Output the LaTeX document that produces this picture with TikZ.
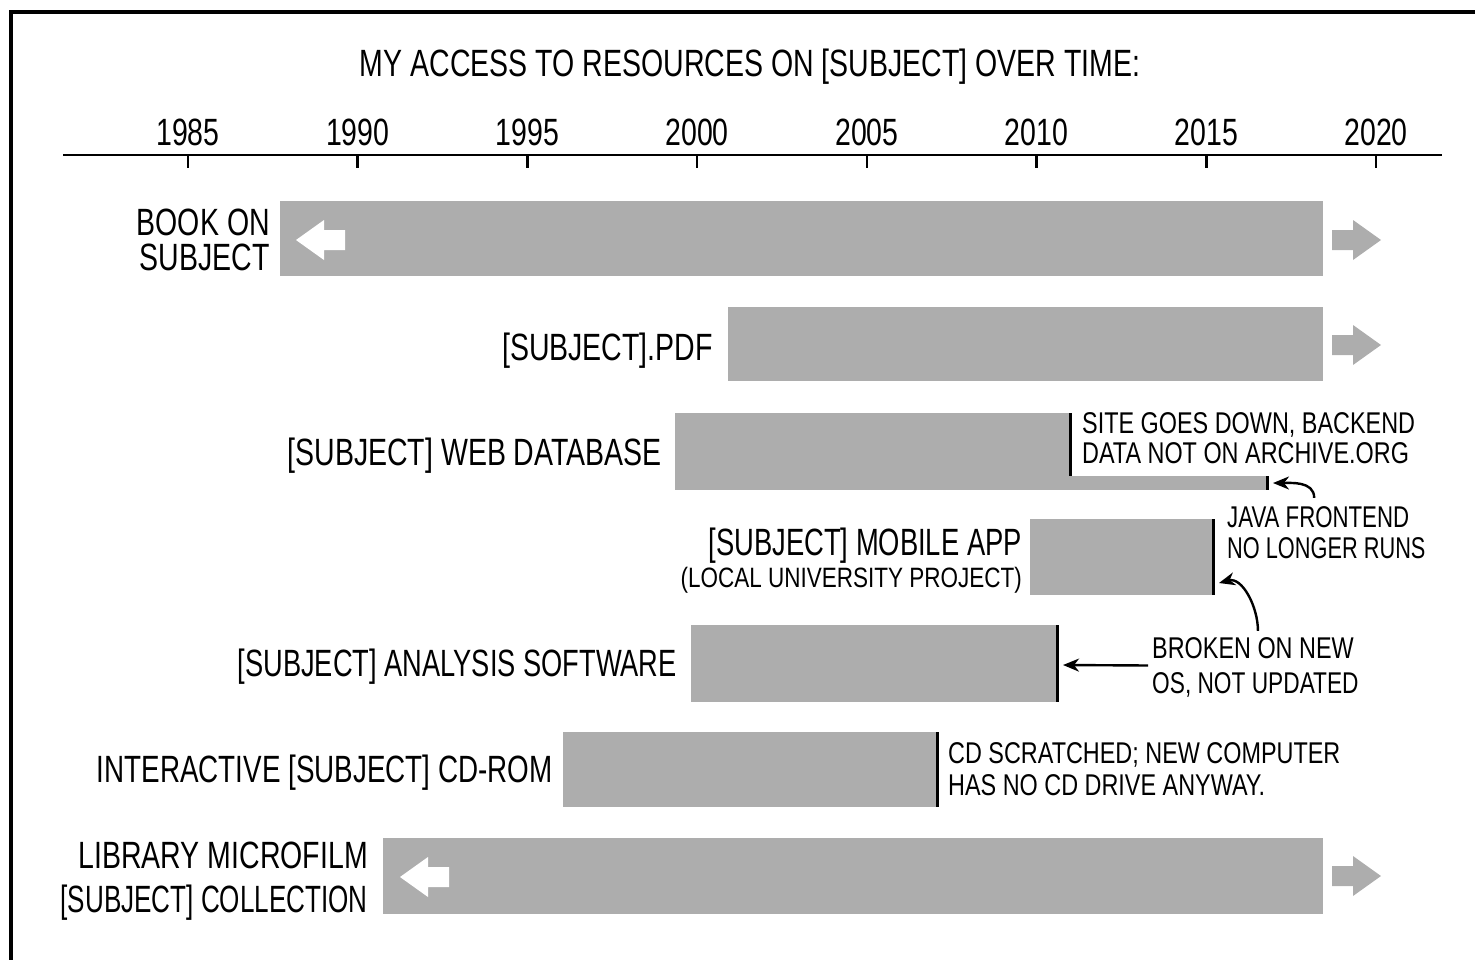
\documentclass[tikz,border=0pt]{standalone}
\usepackage{fontspec}
\usetikzlibrary{arrows.meta}
\newfontfamily\xkfont[FakeStretch=0.75]{Liberation Sans}
\newfontfamily\xkafont[FakeStretch=0.78]{Liberation Sans}
\definecolor{bargray}{HTML}{ADADAD}
\begin{document}
\begin{tikzpicture}[x=1pt,y=-1pt,
  gbar/.style={fill=bargray, draw=none, inner sep=0pt, outer sep=0pt, anchor=north west},
  lbl/.style={inner sep=0pt, anchor=base east, font=\xkfont\fontsize{38}{40}\selectfont},
  annot/.style={inner sep=0pt, anchor=base west, font=\xkafont\fontsize{30}{32}\selectfont},
  yearlbl/.style={inner sep=0pt, anchor=base, font=\xkfont\fontsize{38}{40}\selectfont},
  endline/.style={line width=3pt, black},
  annarrow/.style={line width=2.4pt, -{Stealth[length=16pt,width=13pt,inset=5pt]}},
  rarrow/.pic={\fill[bargray] (0,-10) -- (21,-10) -- (21,-20) -- (49,0) -- (21,20) -- (21,10) -- (0,10) -- cycle;},
  larrow/.pic={\fill[white] (0,0) -- (28,-20) -- (28,-10) -- (49,-10) -- (49,10) -- (28,10) -- (28,20) -- cycle;}
]
\useasboundingbox (0,0) rectangle (1475,959);
% frame
\draw[line width=3.5pt] (1480,12) -- (11,12) -- (11,965);
% title
\node[inner sep=0pt, anchor=base, font=\xkfont\fontsize{38}{40}\selectfont] (title) at (750,76) {MY ACCESS TO RESOURCES ON [SUBJECT] OVER TIME:};
% axis
\draw[line width=2.5pt] (63,155) -- (1442,155);
\foreach \yr/\xx in {1985/188,1990/357.7,1995/527.4,2000/697.1,2005/866.9,2010/1036.6,2015/1206.3,2020/1376}{
  \draw[line width=2.5pt] (\xx,155) -- (\xx,168);
  \node[yearlbl] (y\yr) at (\xx,145) {\yr};
}
% bars
\node[gbar, minimum width=1043pt, minimum height=75pt] (bar1) at (280,201) {};
\node[gbar, minimum width=595pt, minimum height=74pt] (bar2) at (728,307) {};
\node[gbar, minimum width=395pt, minimum height=77pt] (bar3) at (675,413) {};
\node[gbar, minimum width=197pt, minimum height=14pt] (bar3s) at (1070,476) {};
\node[gbar, minimum width=183pt, minimum height=76pt] (bar4) at (1030,519) {};
\node[gbar, minimum width=366pt, minimum height=77pt] (bar5) at (691,625) {};
\node[gbar, minimum width=374pt, minimum height=75pt] (bar6) at (563,732) {};
\node[gbar, minimum width=940pt, minimum height=76pt] (bar7) at (383,838) {};
% end lines
\draw[endline] (bar3.north east) -- (bar3s.north west);
\draw[endline] (bar3s.north east) -- (bar3s.south east);
\draw[endline] (bar4.north east) -- (bar4.south east);
\draw[endline] (bar5.north east) -- (bar5.south east);
\draw[endline] (bar6.north east) -- (bar6.south east);
% continuation arrows
\pic at (1332,240) {rarrow};
\pic at (1332,345) {rarrow};
\pic at (1332,876) {rarrow};
\pic at (296,240) {larrow};
\pic at (400,877) {larrow};
% labels
\node[lbl] (l1a) at (270,235) {BOOK ON};
\node[lbl] (l1b) at (270,270) {SUBJECT};
\node[lbl] (l2) at (713,360) {[SUBJECT].PDF};
\node[lbl] (l3) at (662,465) {[SUBJECT] WEB DATABASE};
\node[lbl] (l4a) at (1022,555) {\scalebox{0.96}[1]{[SUBJECT] MOBILE APP}};
\node[lbl, font=\xkafont\fontsize{28}{30}\selectfont] (l4b) at (1022,587) {\scalebox{1.03}[1]{(LOCAL UNIVERSITY PROJECT)}};
\node[lbl] (l5) at (677,676) {\scalebox{0.956}[1]{[SUBJECT] ANALYSIS SOFTWARE}};
\node[lbl] (l6) at (553,782) {\scalebox{0.976}[1]{INTERACTIVE [SUBJECT] CD-ROM}};
\node[lbl] (l7a) at (368,868) {LIBRARY MICROFILM};
\node[lbl] (l7b) at (368,912) {\scalebox{0.915}[1]{[SUBJECT] COLLECTION}};
% annotations
\node[annot] (a3a) at (1082,433) {SITE GOES DOWN, BACKEND};
\node[annot] (a3b) at (1082,463) {DATA NOT ON ARCHIVE.ORG};
\node[annot] (a4a) at (1227,527) {\scalebox{0.95}[1]{JAVA FRONTEND}};
\node[annot] (a4b) at (1227,558) {\scalebox{0.93}[1]{NO LONGER RUNS}};
\node[annot] (a5a) at (1152,658) {BROKEN ON NEW};
\node[annot] (a5b) at (1152,693) {\scalebox{0.97}[1]{OS, NOT UPDATED}};
\node[annot] (a6a) at (948,763) {CD SCRATCHED; NEW COMPUTER};
\node[annot] (a6b) at (948,795) {HAS NO CD DRIVE ANYWAY.};
% annotation arrows
\draw[annarrow] ([xshift=-4pt,yshift=8pt]a4a.north) to[out=90,in=0] ([xshift=6pt,yshift=7pt]bar3s.south east);
\draw[annarrow] ([xshift=5pt,yshift=6pt]a5a.north) to[out=90,in=15] ([xshift=6pt,yshift=12pt]bar4.south east);
\draw[annarrow] ([xshift=-4pt,yshift=-7pt]a5a.south west) -- ([xshift=6pt,yshift=-1.5pt]bar5.east);
\end{tikzpicture}
\end{document}
